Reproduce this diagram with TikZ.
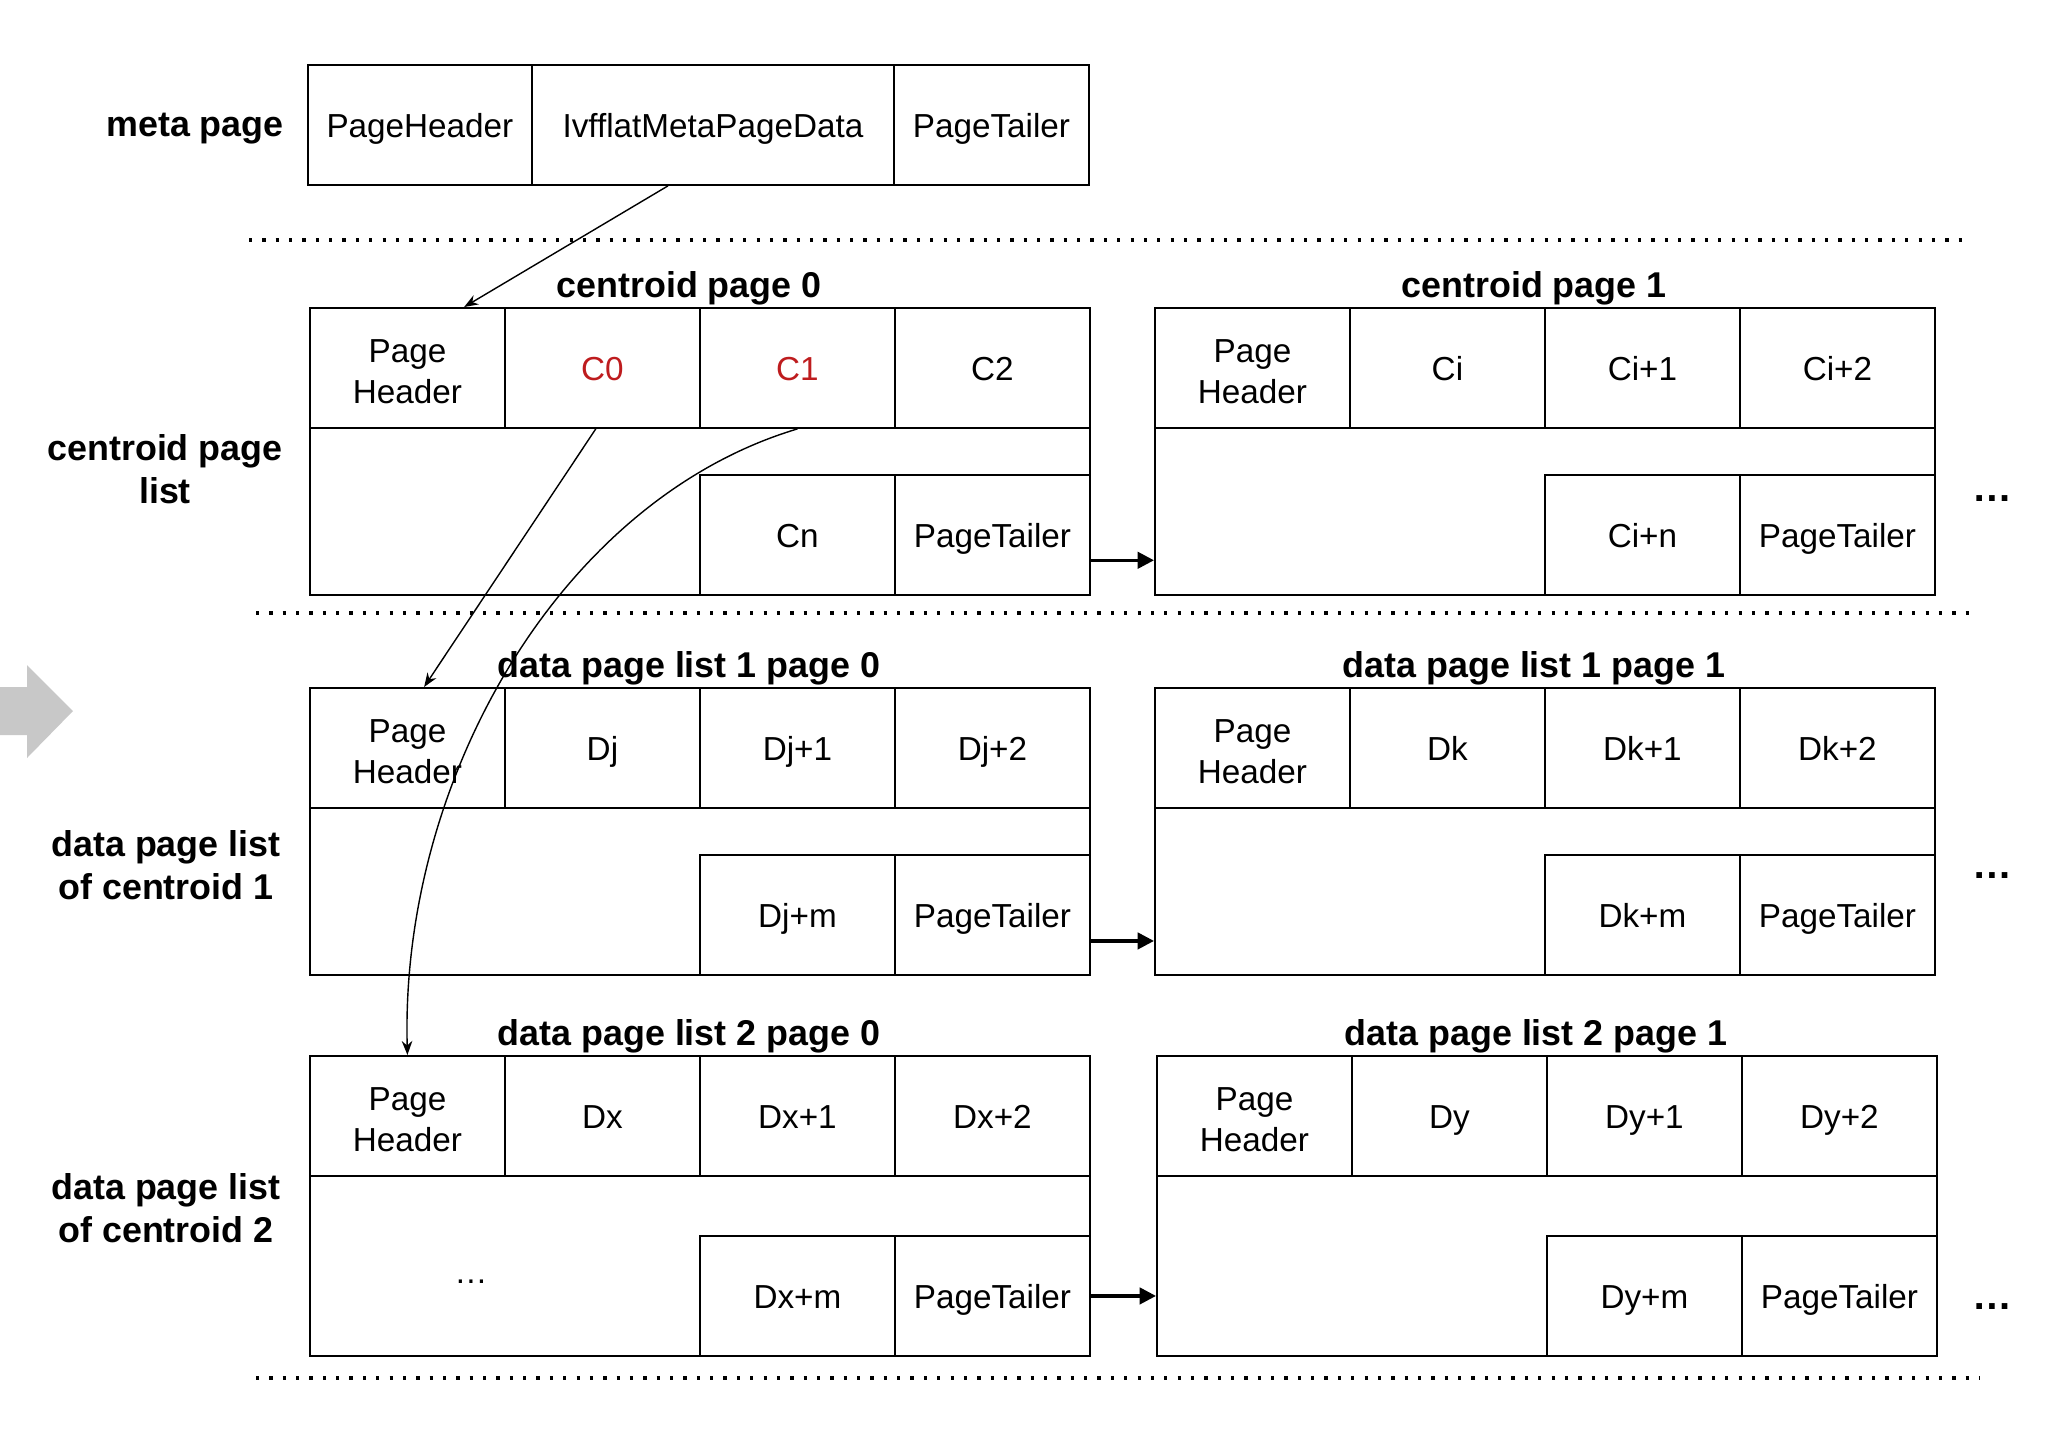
\documentclass[tikz,border=0pt]{standalone}
\usepackage{fontspec}
\setmainfont{Liberation Sans}
\usetikzlibrary{arrows.meta,calc}

\definecolor{CRed}{RGB}{190,28,30}
\definecolor{ArrowGray}{RGB}{200,200,200}

% strut that sets the cell text a little lower
\newcommand{\cellstrut}{\rule[-0.3\baselineskip]{0pt}{\dimexpr\baselineskip+3.4pt\relax}}

\newcommand{\drawpage}[9]{% Parameters: name, x, y, height, title, cell 1, cell 2, cell 3, last cell
  \node[pagebox, minimum height={#4*0.015cm}] (#1) at (#2,#3) {};
  \node[pagetitle] (#1-title) at (#2+380,#3-10) {#5};
  \node[cell] (#1-hdr) at (#2,#3) {\rule{0pt}{13pt}Page\\Header};
  \node[cell] (#1-a) at (#2+195,#3) {\cellstrut#6};
  \node[cell] (#1-b) at (#2+390,#3) {\cellstrut#7};
  \node[cell] (#1-c) at (#2+585,#3) {\cellstrut#8};
  \node[cell] (#1-n) at (#2+390,#3+#4-120) {\cellstrut#9};
  \node[cell] (#1-tail) at (#2+585,#3+#4-120) {\cellstrut PageTailer};
}

\begin{document}
\begin{tikzpicture}[x=0.015cm,y=-0.015cm,
    cell/.style={draw,line width=0.8pt,anchor=north west,inner sep=0pt,align=center,
      minimum width=2.925cm,minimum height=1.8cm,font=\fontsize{14.2}{17.4}\selectfont},
    pagebox/.style={draw,line width=0.8pt,anchor=north west,inner sep=0pt,minimum width=11.7cm},
    pagetitle/.style={anchor=base,font=\bfseries\fontsize{15.3}{18}\selectfont},
    rowlabel/.style={align=center,font=\bfseries\fontsize{15.3}{18.3}\selectfont},
    moredots/.style={font=\bfseries\fontsize{17}{18}\selectfont},
    divline/.style={line width=1.4pt,dash pattern=on 1.4pt off 4.3pt},
    linkarrow/.style={line width=0.6pt,-{Stealth[length=6pt,width=4.5pt]}},
    nextarrow/.style={line width=1.4pt,-{Triangle[length=7pt,width=7pt]}}]
  \useasboundingbox (0,0) rectangle (2054,1434);
  % gray arrow cut off at the left edge
  \fill[ArrowGray] (0,687) -- (27,687) -- (27,665) -- (73,711) -- (27,758) -- (27,735) -- (0,735) -- cycle;
  % row labels
  \node[rowlabel] (lbl-meta) at (195,129) {meta page};
  \node[rowlabel] (lbl-cent) at (165,469) {centroid page\\list};
  \node[rowlabel] (lbl-data1) at (166,865) {data page list\\of centroid 1};
  \node[rowlabel] (lbl-data2) at (166,1208) {data page list\\of centroid 2};
  % meta page
  \node[cell,minimum width=3.36cm] (meta-hdr) at (307,64) {\cellstrut PageHeader};
  \node[cell,minimum width=5.43cm] (meta-data) at (531,64) {\cellstrut IvfflatMetaPageData};
  \node[cell] (meta-tail) at (893,64) {\cellstrut PageTailer};
  % separators
  \draw[divline] (249,240) -- (1971,240);
  \draw[divline] (256,613) -- (1978,613);
  \draw[divline] (256,1378) -- (1979,1378);
  % pages
  \drawpage{cp0}{309}{307}{287}{centroid page 0}{\color{CRed}C0}{\color{CRed}C1}{C2}{Cn}
  \drawpage{cp1}{1154}{307}{287}{centroid page 1}{Ci}{Ci+1}{Ci+2}{Ci+n}
  \drawpage{d1p0}{309}{687}{287}{data page list 1 page 0}{Dj}{Dj+1}{Dj+2}{Dj+m}
  \drawpage{d1p1}{1154}{687}{287}{data page list 1 page 1}{Dk}{Dk+1}{Dk+2}{Dk+m}
  \drawpage{d2p0}{309}{1055}{300}{data page list 2 page 0}{Dx}{Dx+1}{Dx+2}{Dx+m}
  \drawpage{d2p1}{1156}{1055}{300}{data page list 2 page 1}{Dy}{Dy+1}{Dy+2}{Dy+m}
  \node[cell,draw=none,minimum width=0pt,minimum height=0pt,anchor=center] (d2p0-more) at (471,1282) {…};
  \node[moredots] (cp-more) at (1992,499) {…};
  \node[moredots] (d1-more) at (1992,876) {…};
  \node[moredots] (d2-more) at (1992,1307) {…};
  % next page arrows
  \draw[nextarrow] ([yshift=-0.38cm]cp0-tail.east) -- ([yshift=-0.38cm]cp0-tail.east -| cp1.west);
  \draw[nextarrow] ([yshift=-0.39cm]d1p0-tail.east) -- ([yshift=-0.39cm]d1p0-tail.east -| d1p1.west);
  \draw[nextarrow] (d2p0-tail.east) -- (d2p0-tail.east -| d2p1.west);
  % links down the lists
  \draw[linkarrow] ([xshift=-0.675cm]meta-data.south) -- ([xshift=0.85cm]cp0-hdr.north);
  \draw[linkarrow] ([xshift=-0.1cm]cp0-a.south) -- ([xshift=0.25cm]d1p0-hdr.north);
  \draw[linkarrow] (cp0-b.south) .. controls (560,500) and (400,780) .. (d2p0-hdr.north);
\end{tikzpicture}
\end{document}
